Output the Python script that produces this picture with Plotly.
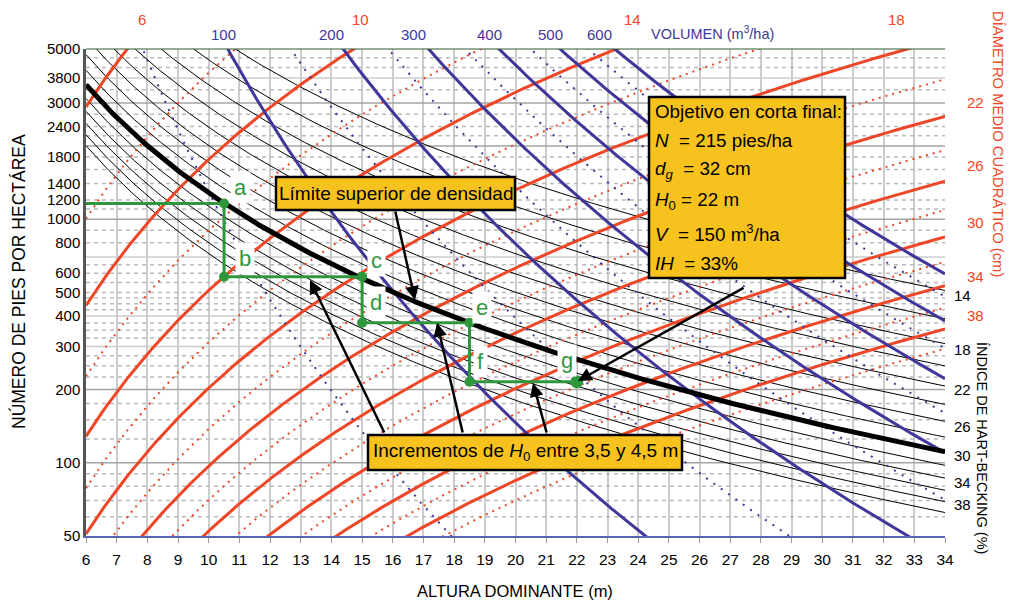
import numpy as np
import plotly.graph_objects as go

# ---- axes -------------------------------------------------------------
H_RANGE = [6, 34]
N_RANGE = [50, 5000]
x_ticks = list(range(6, 35))
y_ticks = [50, 100, 200, 300, 400, 500, 600, 800, 1000, 1200, 1400, 1800, 2400, 3000, 3800, 5000]

grid_dark = [100, 200, 1000, 2000, 3000]
grid_light = [300, 400, 700, 3800]
grid_dashed = [60, 70, 80, 90, 125, 150, 175, 225, 250, 275, 325, 350, 375, 425, 450, 475,
               500, 550, 600, 650, 800, 900, 1100, 1200, 1400, 1600, 1800, 2200, 2400, 2700,
               3400, 4200, 4600]

# ---- isoline levels ---------------------------------------------------
hb_levels = list(range(14, 41, 2))          # Hart-Becking index (%)
hb_limit = 30                               # upper density limit
dg_solid = [6, 10, 14, 18, 22, 26, 30, 34, 38]   # quadratic mean diameter (cm)
dg_dotted = [8, 12, 16, 20, 24, 28, 32, 36, 40]
vol_solid = [100, 200, 300, 400, 500, 600]       # stand volume (m3/ha)
vol_dotted = [50, 150, 250, 350, 450, 550]

# model relations of the diagram
HB_K = 10746.0
DG_K, DG_N, DG_H = 14.05, -0.272, 0.735
V_K, V_N, V_H = np.exp(-4.298), 0.41, 2.29

# ---- thinning schedule -------------------------------------------------
path_h = [6, 10.5, 10.5, 15, 15, 18.5, 18.5, 22]
path_n = [1160, 1160, 580, 580, 376, 376, 215, 215]
stage_names = ["a", "b", "c", "d", "e", "f", "g"]

# colours
RED = "#EE4626"
BLUE = "#3F3799"
GREEN = "#2F973B"
GOLD = "#F8C21E"
FONT = "Liberation Sans Narrow, Arial Narrow, Liberation Sans, Arial, sans-serif"

h = np.linspace(H_RANGE[0], H_RANGE[1], 300)


def n_hb(ih, hh):
    return (HB_K / (ih * hh)) ** 2


def n_dg(d, hh):
    return (d / (DG_K * hh ** DG_H)) ** (1.0 / DG_N)


def n_vol(v, hh):
    return (v / (V_K * hh ** V_H)) ** (1.0 / V_N)


fig = go.Figure()


def add_line(xs, ys, color, width, dash="solid"):
    fig.add_trace(go.Scatter(x=xs, y=ys, mode="lines", hoverinfo="skip",
                             line=dict(color=color, width=width, dash=dash)))


# horizontal grid
for v in grid_dashed:
    add_line(H_RANGE, [v, v], "#b9b9b9", 1.5, "4px,4px")
for v in grid_light:
    add_line(H_RANGE, [v, v], "#cccccc", 1.5)
for v in grid_dark:
    add_line(H_RANGE, [v, v], "#a4a4a4", 1.5)

# Hart-Becking lines
for ih in hb_levels:
    if ih != hb_limit:
        add_line(h, n_hb(ih, h), "black", 1)

# diameter lines
for d in dg_dotted:
    add_line(h, n_dg(d, h), RED, 2, "2px,5px")
for d in dg_solid:
    add_line(h, n_dg(d, h), RED, 3)

# volume lines
for v in vol_dotted:
    add_line(h, n_vol(v, h), BLUE, 2, "2px,7px")
for v in vol_solid:
    add_line(h, n_vol(v, h), BLUE, 3)

# upper density limit
add_line(h, n_hb(hb_limit, h), "black", 5)

# thinning path
add_line(path_h, path_n, GREEN, 3)
fig.add_trace(go.Scatter(x=path_h[1:-1], y=path_n[1:-1], mode="markers", hoverinfo="skip",
                         marker=dict(color=GREEN, size=10)))
fig.add_trace(go.Scatter(x=path_h[-1:], y=path_n[-1:], mode="markers", hoverinfo="skip",
                         marker=dict(color=GREEN, size=13)))

# ---- layout helpers (pixel -> paper) ----------------------------------
L, R, T, B = 86, 66, 49, 67
W, HGT = 1011, 603
PW, PH = W - L - R, HGT - T - B


def px(x):
    return (x - L) / PW


def py(y):
    return (HGT - B - y) / PH


annotations = []


def label(text, x, y, size=16, color="black", xanchor="center", angle=0, **kw):
    annotations.append(dict(text=text, x=px(x), y=py(y), xref="paper", yref="paper",
                            showarrow=False, xanchor=xanchor, yanchor="middle",
                            textangle=angle, font=dict(family=FONT, size=size, color=color), **kw))


# top labels: diameter (red) and volume (blue)
for t, x in zip(["6", "10", "14", "18"], [142, 360, 632, 896]):
    label(t, x, 19, 15, RED)
for t, x in zip(["100", "200", "300", "400", "500", "600"], [223, 331, 413, 489, 550, 599]):
    label(t, x, 35, 15, BLUE)
label("VOLUMEN (m<sup>3</sup>/ha)", 649, 33, 14.5, BLUE, xanchor="left")

# right labels
for t, y in zip(["22", "26", "30", "34", "38"], [102, 165, 222, 276, 315]):
    label(t, 976, y, 15, RED)
for t, y in zip(["14", "18", "22", "26", "30", "34", "38"], [295, 349, 389, 426, 455, 482, 504]):
    label(t, 962, y, 15, "black")

# axis titles
label("ALTURA DOMINANTE (m)", 515, 591, 16.5)
label("NÚMERO DE PIES POR HECTÁREA", 18, 282, 17.5, angle=-90)
label("ÍNDICE DE HART-BECKING (%)", 982, 448, 14.5, angle=90)
label("DÍAMETRO MEDIO CUADRÁTICO (cm)", 998, 144, 14.8, RED, angle=90)

# stage letters
for t, (x, y) in zip(stage_names, [(240, 188), (245, 258), (376, 260), (376, 302),
                                   (482, 307), (480, 361), (567, 360)]):
    label(t, x, y, 22, GREEN, bgcolor="white", borderpad=3)

# text boxes
shapes = []


def box(x0, y0, x1, y1):
    shapes.append(dict(type="rect", xref="paper", yref="paper", layer="above",
                       x0=px(x0), x1=px(x1), y0=py(y1), y1=py(y0),
                       fillcolor=GOLD, line=dict(color="black", width=2.5)))


box(276, 177, 515, 210)
label("Límite superior de densidad", 396, 193, 19)

box(368, 435, 682, 470)
label("Incrementos de <i>H</i><sub>0</sub> entre 3,5 y 4,5 m", 525, 452, 19)

box(649, 97, 845, 278)
for t, y in zip(["Objetivo en corta final:",
                 "<i>N</i>  = 215 pies/ha",
                 "<i>d</i><sub><i>g</i></sub>  = 32 cm",
                 "<i>H</i><sub>0</sub> = 22 m",
                 "<i>V</i>  = 150 m<sup>3</sup>/ha",
                 "<i>IH</i>  = 33%"], [111, 140, 170, 201, 233, 263]):
    label(t, 653, y, 18.8, xanchor="left")

# top frame line
shapes.append(dict(type="line", xref="paper", yref="paper", x0=0, x1=1, y0=1, y1=1,
                   line=dict(color="#2f5a2f", width=1.2), layer="above"))

# arrows (tip, tail) in pixels
for (tx, ty), (sx, sy) in [((415, 300), (395, 210)), ((578, 381), (745, 287)),
                           ((310, 280), (385, 434)), ((437, 323), (463, 434)),
                           ((533, 383), (547, 434))]:
    annotations.append(dict(text="", x=px(tx), y=py(ty), xref="paper", yref="paper",
                            showarrow=True, ax=sx - tx, ay=sy - ty, arrowhead=2,
                            arrowsize=1.1, arrowwidth=2.5, arrowcolor="black", standoff=0))

fig.update_layout(
    width=W, height=HGT, margin=dict(l=L, r=R, t=T, b=B),
    paper_bgcolor="white", plot_bgcolor="white", showlegend=False,
    font=dict(family=FONT, size=15, color="black"),
    xaxis=dict(range=H_RANGE, tickvals=x_ticks, showgrid=True, gridcolor="#cccccc",
               gridwidth=1.5, zeroline=False, ticks="outside", ticklen=5, tickcolor="#999",
               showline=True, linecolor="#5a64b4", linewidth=1.5, ticklabelstandoff=4,
               tickfont=dict(family=FONT, size=15.5)),
    yaxis=dict(type="log", range=[np.log10(N_RANGE[0]), np.log10(N_RANGE[1])],
               tickvals=y_ticks, ticktext=[str(v) for v in y_ticks], showgrid=False,
               zeroline=False, ticks="", showline=True, linecolor="#555555", linewidth=2.5,
               tickfont=dict(family=FONT, size=15)),
    annotations=annotations, shapes=shapes,
)

fig.write_html("out.html")
